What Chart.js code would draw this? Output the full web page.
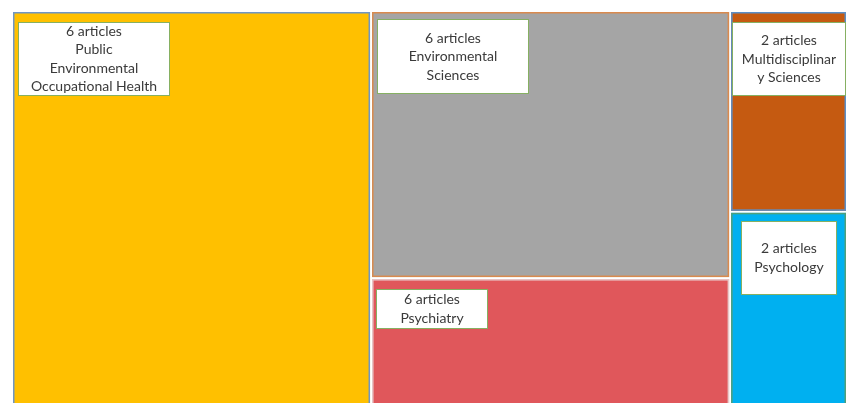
<!DOCTYPE html>
<html>
<head>
<meta charset="utf-8">
<title>Articles by subject area</title>
<script src="https://cdn.jsdelivr.net/npm/chart.js@4.4.1/dist/chart.umd.min.js"></script>
<style>
    html, body { margin: 0; padding: 0; background: #fff; overflow: hidden; }
    #wrap { width: 847px; height: 407px; }
</style>
</head>
<body>
<div id="wrap"><canvas id="treemap" width="847" height="407"></canvas></div>
<script>
// Treemap data

// subject areas
const categories = [
    "Public Environmental Occupational Health",
    "Environmental Sciences",
    "Psychiatry",
    "Multidisciplinary Sciences",
    "Psychology"
];
// number of articles shown in each label
const articleCounts = [6, 6, 6, 2, 2];
// share of the total area per tile (%)
const areaShares = [43, 29, 14, 7.1, 6.9];
// column of the treemap each tile belongs to
const columnOf = [0, 1, 1, 2, 2];
// category names as they wrap inside the labels
const nameLines = [
    ["Public", "Environmental", "Occupational Health"],
    ["Environmental", "Sciences"],
    ["Psychiatry"],
    ["Multidisciplinar", "y Sciences"],
    ["Psychology"]
];

// tile styles
const fillColors = ["#FFC000", "#A5A5A5", "#E0575B", "#C55A11", "#00B0F0"];
const edgeColors = ["#6F96C4", "#D98A4E", "#E8C9C9", "#5B8FC8", "#4FA07A"];
// label boxes: offset from tile corner and size, in px
const labelBoxes = [
    { dx: 6, dy: 11, w: 151, h: 73 },
    { dx: 6, dy: 8, w: 151, h: 74 },
    { dx: 5, dy: 11, w: 111, h: 39 },
    { dx: 2, dy: 11, w: 113, h: 73 },
    { dx: 11, dy: 9, w: 95, h: 73 }
];

// slice-and-dice layout in data units (x: 0..100 across, y: 0..1 down)
function layoutTiles() {
    const nCols = Math.max(...columnOf) + 1;
    const colTotals = new Array(nCols).fill(0);
    areaShares.forEach((v, i) => { colTotals[columnOf[i]] += v; });
    const colStart = [];
    let acc = 0;
    for (let c = 0; c < nCols; c++) { colStart.push(acc); acc += colTotals[c]; }
    const colFill = new Array(nCols).fill(0);
    return areaShares.map((v, i) => {
        const c = columnOf[i];
        const y0 = colFill[c] / colTotals[c];
        colFill[c] += v;
        return {
            x0: colStart[c], x1: colStart[c] + colTotals[c],
            y0: y0, y1: colFill[c] / colTotals[c]
        };
    });
}

const tiles = layoutTiles();

const treemapPlugin = {
    id: 'treemapTiles',
    beforeDatasetsDraw(chart) {
        const ctx = chart.ctx;
        const xs = chart.scales.x;
        const ys = chart.scales.y;
        ctx.save();
        tiles.forEach((t, i) => {
            const left = xs.getPixelForValue(t.x0);
            const right = xs.getPixelForValue(t.x1);
            const top = ys.getPixelForValue(t.y0);
            const bottom = ys.getPixelForValue(t.y1);

            // tile, with a thin white gap to its neighbours
            ctx.fillStyle = fillColors[i];
            ctx.fillRect(left + 1, top + 1, right - left - 2, bottom - top - 2);
            ctx.strokeStyle = edgeColors[i];
            ctx.lineWidth = 1.5;
            ctx.strokeRect(left + 1.75, top + 1.75, right - left - 3.5, bottom - top - 3.5);

            // label box
            const b = labelBoxes[i];
            const bx = Math.round(left + b.dx) + 0.5;
            const by = Math.round(top + b.dy) + 0.5;
            ctx.fillStyle = '#ffffff';
            ctx.fillRect(bx, by, b.w, b.h);
            ctx.strokeStyle = '#86B062';
            ctx.lineWidth = 1;
            ctx.strokeRect(bx, by, b.w, b.h);

            const lines = [articleCounts[i] + ' articles'].concat(nameLines[i]);
            const lh = 18.5;
            const cy = by + b.h / 2 - (lines.length - 1) * lh / 2;
            ctx.fillStyle = '#3a3a3a';
            ctx.font = '14px Lato, "Open Sans", sans-serif';
            ctx.textAlign = 'center';
            ctx.textBaseline = 'middle';
            lines.forEach((ln, k) => {
                ctx.fillText(ln, bx + b.w / 2, cy + k * lh);
            });
        });
        ctx.restore();
    }
};

function initChart() {
    const ctx = document.getElementById('treemap').getContext('2d');
    return new Chart(ctx, {
        type: 'scatter',
        data: {
            labels: categories,
            datasets: []
        },
        options: {
            responsive: false,
            animation: false,
            layout: {
                padding: { left: 12, top: 11, right: 0, bottom: 0 }
            },
            plugins: {
                legend: { display: false },
                tooltip: { enabled: false }
            },
            scales: {
                x: { type: 'linear', display: false, min: 0, max: 100 },
                y: { type: 'linear', display: false, min: 0, max: 1, reverse: true }
            }
        },
        plugins: [treemapPlugin]
    });
}

document.addEventListener('DOMContentLoaded', function() {
    window.treemapChart = initChart();
});
</script>
</body>
</html>
